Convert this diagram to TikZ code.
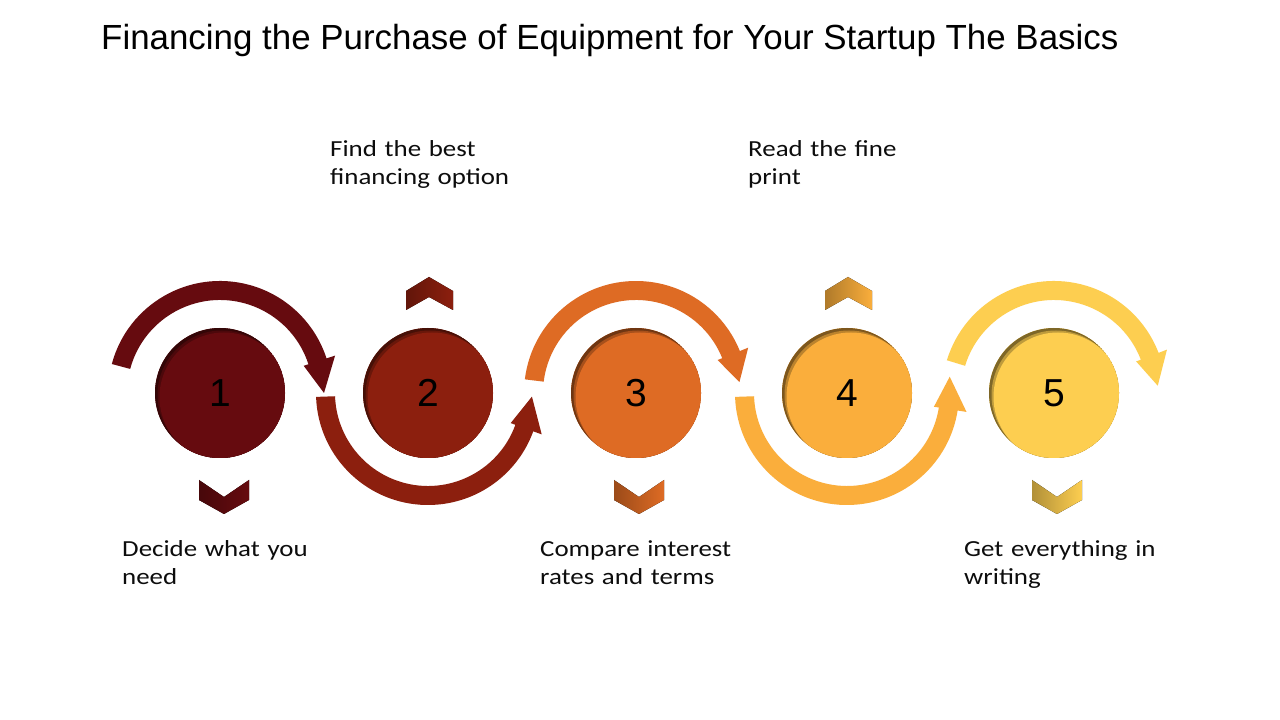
\documentclass[tikz,border=0pt]{standalone}
\usepackage{fontspec}
\setmainfont{Carlito}[FakeStretch=1.17]
\newfontfamily\arialfont{Liberation Sans}
\usetikzlibrary{calc}
\definecolor{colA}{HTML}{660B0F}
\definecolor{colB}{HTML}{8C1F0E}
\definecolor{colC}{HTML}{DE6B24}
\definecolor{colD}{HTML}{FAAE3C}
\definecolor{colE}{HTML}{FDCE50}
\tikzset{
  x=1pt, y=1pt,
  circ/.style = {circle, inner sep=0pt, minimum size=130pt, fill=#1,
    font=\arialfont\fontsize{39}{39}\selectfont,
    path picture={
      \fill[#1!50!black] (path picture bounding box.center) circle (65);
      \fill[#1!75!black] ($(path picture bounding box.center)+(2,-2)$) circle (64.5);
      \fill[#1] ($(path picture bounding box.center)+(4,-4)$) circle (64.5);
    }},
  chev/.style = {left color=#1!70!black, right color=#1},
  txt/.style = {anchor=base west, inner sep=0pt, text width=300pt, align=left,
    font=\fontsize{23}{28}\selectfont, text=black!95},
  ttl/.style = {anchor=base west, inner sep=0pt, font=\arialfont\fontsize{34.9}{36}\selectfont}
}
\begin{document}
\begin{tikzpicture}
\useasboundingbox (0,0) rectangle (1280,720);
\fill[white] (0,0) rectangle (1280,720);

\node [ttl] (title) at (101,670) {Financing the Purchase of Equipment for Your Startup The Basics};

% the five steps
\node [circ=colA] (s1) at (220,327) {\raisebox{-1pt}{1}};
\node [circ=colB] (s2) at (428,327) {\raisebox{-1pt}{2}};
\node [circ=colC] (s3) at (636,327) {\raisebox{-1pt}{3}};
\node [circ=colD] (s4) at (847,327) {\raisebox{-1pt}{4}};
\node [circ=colE] (s5) at (1054,327) {\raisebox{-1pt}{5}};

% curved arrows around the steps
\foreach \n/\s/\b/\t/\c in {s1/165/18/0/colA, s2/182/340/358/colB, s3/173/22/6/colC,
                            s4/182/351/369/colD, s5/163/21/4/colE}
{
  \begin{scope}[shift={(\n.center)}]
    \fill[\c] (\s:112) arc[start angle=\s, end angle=\b, radius=112]
      -- (\b:121) -- (\t:104) -- (\b:88) -- (\b:93)
      arc[start angle=\b, end angle=\s, radius=93] -- cycle;
  \end{scope}
}

% chevrons
\foreach \x/\c in {224/colA, 639/colC, 1057/colE}
  \fill[chev=\c] (\x-25,240) -- (\x,223) -- (\x+25,240) -- (\x+25,220) -- (\x,206) -- (\x-25,220) -- cycle;
\foreach \x/\c in {429/colB, 848/colD}
  \fill[chev=\c] (\x-23,410) -- (\x-23,429) -- (\x,443) -- (\x+24,429) -- (\x+24,410) -- (\x,423) -- cycle;

% labels
\node [txt] (t1) at (122,163) {Decide what you\\need};
\node [txt] (t2) at (330,563) {Find the best\\financing option};
\node [txt] (t3) at (540,163) {Compare interest\\rates and terms};
\node [txt] (t4) at (748,563) {Read the fine\\print};
\node [txt] (t5) at (964,163) {Get everything in\\writing};
\end{tikzpicture}
\end{document}
